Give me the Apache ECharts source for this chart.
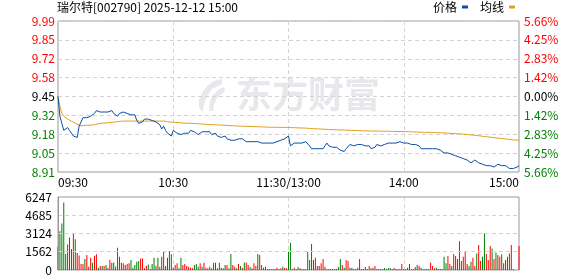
<!DOCTYPE html>
<html><head><meta charset="utf-8">
<script src="https://cdn.jsdelivr.net/npm/echarts@6/dist/echarts.min.js"></script>
<style>html,body{margin:0;padding:0;background:#fff}#c{width:578px;height:276px}</style>
</head><body><div id="c"></div>
<script>
const stockTitle = '瑞尔特[002790] 2025-12-12 15:00';
const seriesNames = ['价格', '均线'];
const priceMin = 8.915, priceMax = 9.985;
const priceTickLabels = ['9.99','9.85','9.72','9.58','9.45','9.32','9.18','9.05','8.91'];
const pctTickLabels = ['5.66%','4.25%','2.83%','1.42%','0.00%','1.42%','2.83%','4.25%','5.66%'];
const volMax = 6247;
const volTickLabels = ['6247','4685','3124','1562','0'];
const timeTickLabels = ['09:30','10:30','11:30/13:00','14:00','15:00'];
const timeTickIndex = [0, 60, 120, 180, 240];

const price = [
 9.45,9.31,9.26,9.21,9.20,9.23,9.21,9.19,9.17,9.17,
 9.16,9.24,9.27,9.30,9.31,9.30,9.29,9.31,9.31,9.33,
 9.35,9.36,9.34,9.34,9.34,9.34,9.34,9.35,9.35,9.33,
 9.32,9.31,9.33,9.34,9.34,9.34,9.33,9.33,9.32,9.32,
 9.32,9.28,9.26,9.25,9.27,9.29,9.29,9.29,9.29,9.28,
 9.27,9.27,9.26,9.25,9.22,9.24,9.21,9.19,9.18,9.17,
 9.21,9.20,9.19,9.18,9.18,9.17,9.19,9.19,9.19,9.21,
 9.22,9.20,9.19,9.18,9.19,9.20,9.21,9.20,9.19,9.20,
 9.18,9.18,9.19,9.17,9.16,9.16,9.16,9.17,9.15,9.15,
 9.14,9.14,9.14,9.14,9.15,9.15,9.15,9.14,9.13,9.13,
 9.13,9.13,9.13,9.13,9.13,9.12,9.12,9.12,9.12,9.12,
 9.12,9.12,9.12,9.13,9.13,9.13,9.14,9.15,9.15,9.16,
 9.17,
 9.10,9.11,9.12,9.12,9.12,9.12,9.12,9.13,9.13,
 9.12,9.10,9.08,9.07,9.08,9.08,9.08,9.08,9.08,9.10,
 9.12,9.10,9.09,9.09,9.08,9.09,9.08,9.07,9.08,9.06,
 9.08,9.09,9.11,9.10,9.10,9.10,9.11,9.12,9.11,9.10,
 9.10,9.10,9.10,9.08,9.08,9.09,9.11,9.11,9.10,9.10,
 9.11,9.11,9.12,9.11,9.12,9.12,9.12,9.12,9.13,9.13,
 9.12,9.12,9.12,9.11,9.11,9.12,9.11,9.11,9.10,9.08,
 9.08,9.08,9.08,9.08,9.08,9.08,9.08,9.08,9.07,9.07,
 9.06,9.05,9.05,9.05,9.05,9.04,9.03,9.03,9.04,9.02,
 9.01,9.01,9.01,9.00,8.99,8.98,8.99,9.00,8.99,8.98,
 8.98,8.97,8.97,8.96,8.96,8.96,8.95,8.95,8.94,8.97,
 8.96,8.96,8.96,8.96,8.95,8.94,8.94,8.94,8.94,8.95,
 8.96
];

const avgPrice = [
 9.450,9.380,9.330,9.310,9.297,9.290,9.283,9.275,9.268,9.261,
 9.252,9.245,9.243,9.243,9.244,9.246,9.247,9.248,9.248,9.249,
 9.254,9.258,9.260,9.261,9.262,9.263,9.264,9.265,9.267,9.268,
 9.270,9.272,9.273,9.275,9.276,9.276,9.276,9.276,9.276,9.276,
 9.276,9.276,9.276,9.276,9.276,9.276,9.276,9.276,9.276,9.276,
 9.276,9.276,9.276,9.276,9.276,9.276,9.274,9.272,9.270,9.268,
 9.267,9.267,9.266,9.265,9.263,9.262,9.261,9.261,9.260,9.260,
 9.260,9.259,9.258,9.257,9.256,9.255,9.254,9.253,9.252,9.251,
 9.250,9.250,9.249,9.249,9.248,9.247,9.246,9.246,9.245,9.244,
 9.244,9.243,9.242,9.241,9.241,9.240,9.240,9.239,9.239,9.238,
 9.238,9.237,9.237,9.236,9.236,9.235,9.235,9.234,9.234,9.233,
 9.233,9.232,9.232,9.232,9.231,9.231,9.231,9.231,9.231,9.231,
 9.231,9.230,9.230,9.229,9.229,9.228,9.228,9.227,9.227,9.226,
 9.225,9.224,9.223,9.222,9.221,9.221,9.220,9.219,9.219,9.218,
 9.217,9.216,9.215,9.215,9.214,9.214,9.213,9.213,9.212,9.212,
 9.211,9.211,9.210,9.210,9.209,9.209,9.208,9.208,9.207,9.207,
 9.207,9.206,9.206,9.206,9.206,9.205,9.205,9.205,9.205,9.204,
 9.204,9.204,9.204,9.203,9.203,9.203,9.203,9.202,9.202,9.202,
 9.201,9.201,9.201,9.200,9.200,9.199,9.199,9.198,9.198,9.197,
 9.197,9.196,9.196,9.196,9.195,9.195,9.195,9.194,9.194,9.193,
 9.193,9.192,9.191,9.190,9.190,9.189,9.188,9.187,9.186,9.185,
 9.184,9.183,9.182,9.181,9.179,9.178,9.177,9.175,9.174,9.172,
 9.170,9.168,9.167,9.165,9.163,9.162,9.160,9.158,9.156,9.155,
 9.153,9.152,9.150,9.149,9.147,9.146,9.144,9.142,9.142,9.142,
 9.140
];

const volume = [
 2000,3320,3980,5770,1360,2190,2780,1790,3150,2640,
 1450,1250,510,510,940,1280,280,1050,620,1220,
 1340,200,340,340,340,430,200,850,620,650,
 300,1900,1140,620,570,430,510,570,850,200,
 430,710,770,990,990,140,370,480,85,510,
 1050,340,1050,280,1140,1560,340,1050,1620,1340,
 200,430,570,140,1050,430,510,340,280,200,
 140,430,510,280,570,280,620,200,140,280,
 140,620,620,140,620,200,140,430,430,140,
 1360,430,280,140,510,340,200,650,650,430,
 280,140,570,340,1360,1280,430,200,280,85,
 85,85,85,85,200,85,140,280,200,140,
 1560,2330,85,200,85,260,140,85,85,85,
 1560,850,2220,850,1050,340,340,570,940,280,
 85,85,85,85,85,85,260,940,430,200,
 850,770,200,200,85,85,200,940,85,85,
 260,85,340,140,200,340,85,85,85,85,
 170,85,170,170,85,170,85,85,85,510,
 85,85,200,510,85,85,260,430,340,200,
 85,85,85,85,650,340,140,200,85,85,
 85,1140,570,1190,510,340,1360,1190,940,2470,
 770,1140,1560,510,340,710,1050,340,1420,2130,
 770,1140,3120,1360,850,2050,1850,940,1500,1280,
 1140,1340,570,850,1140,1420,2130,85,0,0,
 2050
];

// 1 = up (red), -1 = down (green)
const volumeSide = [
 -1,-1,-1,-1,-1,1,-1,-1,1,-1,
 1,1,1,1,-1,1,1,1,-1,1,
 1,-1,1,-1,1,-1,1,1,-1,-1,
 1,1,-1,1,1,-1,1,1,-1,-1,
 -1,-1,-1,1,1,1,1,-1,-1,-1,
 -1,1,-1,1,-1,1,-1,-1,-1,-1,
 1,1,1,-1,-1,1,1,1,1,1,
 1,-1,-1,-1,1,-1,1,1,1,-1,
 1,-1,-1,1,-1,1,-1,-1,1,-1,
 -1,1,1,-1,1,-1,1,-1,1,1,
 -1,1,1,1,-1,1,1,1,-1,1,
 1,1,1,1,1,1,1,-1,1,1,
 -1,-1,1,1,-1,-1,1,1,1,-1,
 -1,-1,-1,-1,1,1,1,1,1,1,
 -1,-1,-1,1,1,1,-1,-1,1,-1,
 1,1,-1,-1,1,1,1,1,-1,-1,
 1,-1,1,-1,1,1,1,1,1,1,
 -1,1,-1,-1,1,1,1,-1,1,1,
 1,1,1,-1,1,-1,1,-1,1,-1,
 -1,1,-1,1,1,1,1,-1,1,-1,
 -1,-1,-1,1,1,-1,1,1,-1,1,
 -1,1,1,1,-1,-1,1,1,-1,1,
 1,-1,-1,1,1,1,-1,1,-1,1,
 1,-1,1,-1,1,-1,1,1,1,1,
 1
];

// minute categories 09:30-11:30, 13:01-15:00
const times = [];
const fmt = m => String(Math.floor(m / 60)).padStart(2, '0') + ':' + String(m % 60).padStart(2, '0');
for (let m = 570; m <= 690; m++) times.push(fmt(m));
for (let m = 781; m <= 900; m++) times.push(fmt(m));

const FONT = '"Noto Sans CJK SC", "Microsoft YaHei", sans-serif';
const RED = '#ff0000', GREEN = '#008000', BLACK = '#000000';
const priceInterval = (priceMax - priceMin) / 8;
const tickIdx = v => Math.round((v - priceMin) / priceInterval);
const sideColor = v => { const k = tickIdx(v); return k > 4 ? RED : (k < 4 ? GREEN : BLACK); };
const splitStyle = { color: '#d4d4d4', type: [4, 3], width: 1 };
const WM = '#e8e8ec';

const chart = echarts.init(document.getElementById('c'), null, { renderer: 'canvas' });
chart.setOption({
  animation: false,
  backgroundColor: '#ffffff',
  textStyle: { fontFamily: FONT },
  title: {
    text: stockTitle, left: 57, top: 1, padding: 0,
    textStyle: { fontSize: 12, fontWeight: 'normal', color: '#000', fontFamily: FONT }
  },
  legend: {
    data: seriesNames, right: 63, top: 1, padding: 0, align: 'right',
    icon: 'rect', itemWidth: 6, itemHeight: 3, itemGap: 12, selectedMode: false,
    textStyle: { fontSize: 12, color: '#000', fontFamily: FONT }
  },
  graphic: [
    { type: 'text', x: 236, y: 76, z: -10, silent: true,
      style: { text: '东方财富', font: 'bold 36px "Noto Sans CJK SC"', fill: WM, textVerticalAlign: 'top' } },
    { type: 'polygon', z: -10, silent: true,
      shape: { points: [[222,79],[214,81],[207,86],[202,93],[199,100],[199,108],[203,112],[204,104],[207,96],[212,89],[222,84]] },
      style: { fill: WM } },
    { type: 'polygon', z: -10, silent: true,
      shape: { points: [[224,87],[218,90],[213,95],[210,101],[209,111],[213,111],[214,104],[217,98],[225,91]] },
      style: { fill: WM } }
  ],
  grid: [
    { left: 58, top: 21, width: 461, height: 151, show: true, borderColor: '#999', borderWidth: 1, backgroundColor: 'transparent' },
    { left: 58, top: 197, width: 461, height: 73, show: true, borderColor: '#999', borderWidth: 1, backgroundColor: 'transparent' }
  ],
  xAxis: [
    { type: 'category', gridIndex: 0, data: times, boundaryGap: false,
      axisLine: { show: false }, axisTick: { show: false },
      axisLabel: {
        show: true, fontSize: 12, color: '#000', margin: 4, fontFamily: FONT,
        interval: (i) => timeTickIndex.includes(i),
        formatter: (v, i) => timeTickLabels[timeTickIndex.indexOf(i)] || '',
        alignMinLabel: 'left', alignMaxLabel: 'right'
      },
      splitLine: { show: true, interval: (i) => i === 60 || i === 120 || i === 180, lineStyle: splitStyle }
    },
    { type: 'category', gridIndex: 1, data: times, boundaryGap: false,
      axisLine: { show: false }, axisTick: { show: false }, axisLabel: { show: false },
      splitLine: { show: true, interval: (i) => i === 60 || i === 120 || i === 180, lineStyle: splitStyle }
    }
  ],
  yAxis: [
    { type: 'value', gridIndex: 0, position: 'left', min: priceMin, max: priceMax, interval: priceInterval,
      axisLine: { show: false }, axisTick: { show: false },
      axisLabel: { fontSize: 12, margin: 3, fontFamily: FONT,
        formatter: (v) => priceTickLabels[8 - tickIdx(v)],
        color: (v) => sideColor(Number(v)) },
      splitLine: { show: true, showMinLine: false, showMaxLine: false, lineStyle: splitStyle }
    },
    { type: 'value', gridIndex: 0, position: 'right', min: priceMin, max: priceMax, interval: priceInterval,
      axisLine: { show: false }, axisTick: { show: false },
      axisLabel: { fontSize: 12, margin: 5, fontFamily: FONT,
        formatter: (v) => pctTickLabels[8 - tickIdx(v)],
        color: (v) => sideColor(Number(v)) },
      splitLine: { show: false }
    },
    { type: 'value', gridIndex: 1, position: 'left', min: 0, max: volMax, interval: volMax / 4,
      axisLine: { show: true, lineStyle: { color: '#999' } }, axisTick: { show: false }, z: 5,
      axisLabel: { fontSize: 12, margin: 6, color: '#000', fontFamily: FONT,
        formatter: (v) => volTickLabels[4 - Math.round(v / (volMax / 4))] },
      splitLine: { show: true, showMinLine: false, showMaxLine: false, lineStyle: splitStyle }
    }
  ],
  series: [
    { name: seriesNames[0], type: 'line', xAxisIndex: 0, yAxisIndex: 0, data: price,
      showSymbol: false, symbol: 'none', color: '#0b4ea2', lineStyle: { width: 1, color: '#0b4ea2' }, z: 4 },
    { name: seriesNames[1], type: 'line', xAxisIndex: 0, yAxisIndex: 0, data: avgPrice,
      showSymbol: false, symbol: 'none', color: '#e0a11b', lineStyle: { width: 1, color: '#e0a11b' }, z: 3 },
    { name: '成交量', type: 'bar', xAxisIndex: 1, yAxisIndex: 2, data: volume, barWidth: 1,
      itemStyle: { color: (p) => volumeSide[p.dataIndex] > 0 ? RED : GREEN } }
  ]
});
</script></body></html>
